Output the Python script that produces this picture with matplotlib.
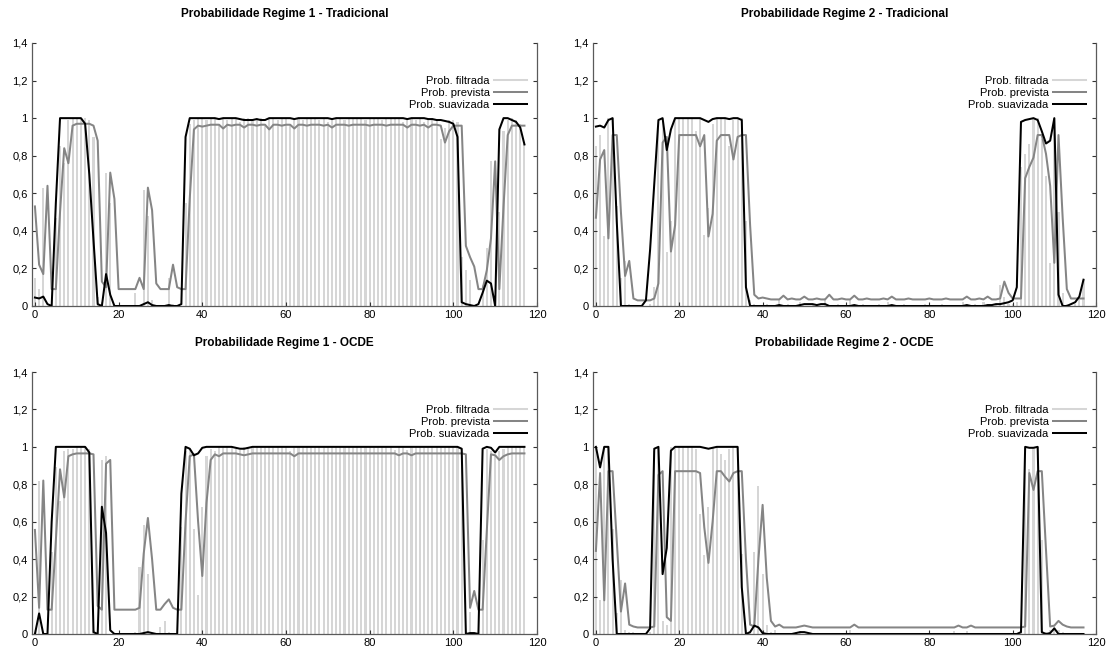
import matplotlib
matplotlib.use('Agg')
import matplotlib.pyplot as plt
from matplotlib.lines import Line2D

plt.rcParams['font.family'] = ['Liberation Sans', 'DejaVu Sans']

# ---------------- data ----------------
periods = list(range(118))

titles = ['Probabilidade Regime 1 - Tradicional', 'Probabilidade Regime 2 - Tradicional',
          'Probabilidade Regime 1 - OCDE', 'Probabilidade Regime 2 - OCDE']
legend_labels = ['Prob. filtrada', 'Prob. prevista', 'Prob. suavizada']
yticks = [0, 0.2, 0.4, 0.6, 0.8, 1.0, 1.2, 1.4]
ytick_labels = ['0', '0,2', '0,4', '0,6', '0,8', '1', '1,2', '1,4']
xticks = [0, 20, 40, 60, 80, 100, 120]

# Regime 1 - Tradicional
filt_r1_trad = [
    0.15, 0.09, 0.63, 0.00, 0.00, 0.47, 0.85, 0.76, 0.99, 1.00,
    1.00, 1.00, 1.00, 0.99, 0.90, 0.05, 0.02, 0.71, 0.55, 0.00,
    0.00, 0.00, 0.00, 0.00, 0.07, 0.00, 0.62, 0.48, 0.03, 0.00,
    0.00, 0.00, 0.15, 0.01, 0.00, 0.00, 0.55, 0.97, 0.99, 1.00,
    1.00, 0.99, 1.00, 1.00, 0.97, 1.00, 0.99, 1.00, 1.00, 0.98,
    1.00, 1.00, 0.99, 1.00, 1.00, 0.96, 1.00, 1.00, 0.99, 1.00,
    1.00, 0.97, 1.00, 1.00, 0.99, 1.00, 1.00, 1.00, 0.99, 1.00,
    0.98, 1.00, 1.00, 1.00, 0.99, 1.00, 1.00, 1.00, 1.00, 0.99,
    1.00, 1.00, 1.00, 0.99, 1.00, 1.00, 1.00, 1.00, 0.98, 1.00,
    1.00, 0.99, 1.00, 0.98, 1.00, 1.00, 0.99, 0.89, 0.95, 0.99,
    0.99, 0.98, 0.26, 0.19, 0.14, 0.00, 0.00, 0.11, 0.31, 0.77,
    0.00, 0.50, 0.93, 0.99, 1.00, 0.99, 0.97, 0.86]
pred_r1_trad = [
    0.53, 0.22, 0.17, 0.64, 0.09, 0.09, 0.50, 0.84, 0.76, 0.96,
    0.97, 0.97, 0.97, 0.97, 0.96, 0.88, 0.13, 0.10, 0.71, 0.57,
    0.09, 0.09, 0.09, 0.09, 0.09, 0.15, 0.09, 0.63, 0.51, 0.12,
    0.09, 0.09, 0.09, 0.22, 0.10, 0.09, 0.09, 0.57, 0.94, 0.96,
    0.955, 0.96, 0.965, 0.965, 0.965, 0.945, 0.965, 0.96, 0.965, 0.965,
    0.95, 0.965, 0.965, 0.96, 0.965, 0.965, 0.94, 0.965, 0.965, 0.96,
    0.965, 0.965, 0.945, 0.965, 0.965, 0.96, 0.965, 0.965, 0.965, 0.96,
    0.965, 0.95, 0.965, 0.965, 0.965, 0.96, 0.965, 0.965, 0.965, 0.965,
    0.96, 0.965, 0.965, 0.965, 0.96, 0.965, 0.965, 0.965, 0.965, 0.95,
    0.965, 0.965, 0.96, 0.965, 0.95, 0.965, 0.965, 0.96, 0.87, 0.93,
    0.96, 0.96, 0.96, 0.32, 0.26, 0.21, 0.09, 0.09, 0.19, 0.36,
    0.77, 0.09, 0.53, 0.91, 0.96, 0.96, 0.96, 0.96]
smooth_r1_trad = [
    0.045, 0.04, 0.05, 0.01, 0.00, 0.55, 1.00, 1.00, 1.00, 1.00,
    1.00, 1.00, 0.97, 0.70, 0.35, 0.01, 0.00, 0.17, 0.06, 0.00,
    0.00, 0.00, 0.00, 0.00, 0.00, 0.00, 0.01, 0.02, 0.005, 0.00,
    0.00, 0.00, 0.005, 0.00, 0.00, 0.01, 0.90, 1.00, 1.00, 1.00,
    1.00, 1.00, 1.00, 1.00, 0.995, 1.00, 1.00, 1.00, 1.00, 0.995,
    0.99, 0.99, 0.99, 0.995, 0.99, 0.99, 1.00, 1.00, 1.00, 1.00,
    1.00, 1.00, 0.995, 1.00, 1.00, 1.00, 1.00, 1.00, 1.00, 1.00,
    1.00, 0.995, 1.00, 1.00, 1.00, 1.00, 1.00, 1.00, 1.00, 1.00,
    1.00, 1.00, 1.00, 1.00, 1.00, 1.00, 1.00, 1.00, 1.00, 0.995,
    1.00, 1.00, 1.00, 1.00, 0.995, 0.995, 0.99, 0.99, 0.985, 0.98,
    0.97, 0.90, 0.02, 0.01, 0.005, 0.00, 0.01, 0.07, 0.135, 0.12,
    0.00, 0.94, 1.00, 1.00, 0.99, 0.98, 0.95, 0.86]

# Regime 2 - Tradicional
filt_r2_trad = [
    0.85, 0.91, 0.37, 1.00, 1.00, 0.53, 0.15, 0.24, 0.01, 0.00,
    0.00, 0.00, 0.00, 0.01, 0.10, 0.95, 0.98, 0.29, 0.45, 1.00,
    1.00, 1.00, 1.00, 1.00, 0.93, 1.00, 0.38, 0.52, 0.97, 1.00,
    1.00, 1.00, 0.85, 0.99, 1.00, 1.00, 0.45, 0.03, 0.01, 0.00,
    0.00, 0.01, 0.00, 0.00, 0.03, 0.00, 0.01, 0.00, 0.00, 0.02,
    0.00, 0.00, 0.01, 0.00, 0.00, 0.04, 0.00, 0.00, 0.01, 0.00,
    0.00, 0.03, 0.00, 0.00, 0.01, 0.00, 0.00, 0.00, 0.01, 0.00,
    0.02, 0.00, 0.00, 0.00, 0.01, 0.00, 0.00, 0.00, 0.00, 0.01,
    0.00, 0.00, 0.00, 0.01, 0.00, 0.00, 0.00, 0.00, 0.02, 0.00,
    0.00, 0.01, 0.00, 0.02, 0.00, 0.00, 0.01, 0.11, 0.05, 0.01,
    0.01, 0.02, 0.74, 0.81, 0.86, 1.00, 1.00, 0.89, 0.69, 0.23,
    1.00, 0.50, 0.07, 0.01, 0.00, 0.01, 0.03, 0.14]
pred_r2_trad = [
    0.47, 0.78, 0.83, 0.36, 0.91, 0.91, 0.50, 0.16, 0.24, 0.04,
    0.03, 0.03, 0.03, 0.03, 0.04, 0.12, 0.87, 0.90, 0.29, 0.43,
    0.91, 0.91, 0.91, 0.91, 0.91, 0.85, 0.91, 0.37, 0.49, 0.88,
    0.91, 0.91, 0.91, 0.78, 0.90, 0.91, 0.91, 0.43, 0.06, 0.04,
    0.045, 0.04, 0.035, 0.035, 0.035, 0.055, 0.035, 0.04, 0.035, 0.035,
    0.05, 0.035, 0.035, 0.04, 0.035, 0.035, 0.06, 0.035, 0.035, 0.04,
    0.035, 0.035, 0.055, 0.035, 0.035, 0.04, 0.035, 0.035, 0.035, 0.04,
    0.035, 0.05, 0.035, 0.035, 0.035, 0.04, 0.035, 0.035, 0.035, 0.035,
    0.04, 0.035, 0.035, 0.035, 0.04, 0.035, 0.035, 0.035, 0.035, 0.05,
    0.035, 0.035, 0.04, 0.035, 0.05, 0.035, 0.035, 0.04, 0.13, 0.07,
    0.04, 0.04, 0.04, 0.68, 0.74, 0.79, 0.91, 0.91, 0.81, 0.64,
    0.23, 0.91, 0.47, 0.09, 0.04, 0.04, 0.04, 0.04]
smooth_r2_trad = [
    0.955, 0.96, 0.95, 0.99, 1.00, 0.45, 0.00, 0.00, 0.00, 0.00,
    0.00, 0.00, 0.03, 0.30, 0.65, 0.99, 1.00, 0.83, 0.94, 1.00,
    1.00, 1.00, 1.00, 1.00, 1.00, 1.00, 0.99, 0.98, 0.995, 1.00,
    1.00, 1.00, 0.995, 1.00, 1.00, 0.99, 0.10, 0.00, 0.00, 0.00,
    0.00, 0.00, 0.00, 0.00, 0.005, 0.00, 0.00, 0.00, 0.00, 0.005,
    0.01, 0.01, 0.01, 0.005, 0.01, 0.01, 0.00, 0.00, 0.00, 0.00,
    0.00, 0.00, 0.005, 0.00, 0.00, 0.00, 0.00, 0.00, 0.00, 0.00,
    0.00, 0.005, 0.00, 0.00, 0.00, 0.00, 0.00, 0.00, 0.00, 0.00,
    0.00, 0.00, 0.00, 0.00, 0.00, 0.00, 0.00, 0.00, 0.00, 0.005,
    0.00, 0.00, 0.00, 0.00, 0.005, 0.005, 0.01, 0.01, 0.015, 0.02,
    0.03, 0.10, 0.98, 0.99, 0.995, 1.00, 0.99, 0.93, 0.865, 0.88,
    1.00, 0.06, 0.00, 0.00, 0.01, 0.02, 0.05, 0.14]

# Regime 1 - OCDE
filt_r1_ocde = [
    0.01, 0.82, 0.00, 0.00, 0.44, 0.89, 0.71, 0.98, 0.99, 0.99,
    1.00, 1.00, 1.00, 0.99, 0.02, 0.00, 0.93, 0.95, 0.00, 0.00,
    0.00, 0.00, 0.00, 0.00, 0.01, 0.36, 0.58, 0.32, 0.00, 0.00,
    0.04, 0.07, 0.01, 0.00, 0.00, 0.57, 0.98, 0.99, 0.56, 0.21,
    0.68, 0.95, 0.99, 0.98, 1.00, 1.00, 1.00, 1.00, 0.99, 0.985,
    1.00, 1.00, 1.00, 1.00, 1.00, 1.00, 1.00, 1.00, 1.00, 1.00,
    1.00, 0.98, 1.00, 1.00, 1.00, 1.00, 1.00, 1.00, 1.00, 1.00,
    1.00, 1.00, 1.00, 1.00, 1.00, 1.00, 1.00, 1.00, 1.00, 1.00,
    1.00, 1.00, 1.00, 1.00, 1.00, 1.00, 0.985, 1.00, 1.00, 0.985,
    1.00, 1.00, 1.00, 1.00, 1.00, 1.00, 1.00, 1.00, 1.00, 1.00,
    1.00, 1.00, 0.99, 0.01, 0.12, 0.00, 0.00, 0.50, 0.99, 0.98,
    0.95, 0.98, 0.99, 1.00, 1.00, 1.00, 1.00, 1.00]
pred_r1_ocde = [
    0.556, 0.14, 0.82, 0.13, 0.13, 0.50, 0.88, 0.73, 0.95, 0.96,
    0.965, 0.965, 0.965, 0.965, 0.96, 0.15, 0.13, 0.91, 0.93, 0.13,
    0.13, 0.13, 0.13, 0.13, 0.13, 0.14, 0.43, 0.62, 0.40, 0.13,
    0.13, 0.16, 0.185, 0.14, 0.13, 0.13, 0.60, 0.95, 0.96, 0.60,
    0.31, 0.70, 0.93, 0.96, 0.95, 0.965, 0.965, 0.965, 0.965, 0.96,
    0.955, 0.96, 0.965, 0.965, 0.965, 0.965, 0.965, 0.965, 0.965, 0.965,
    0.965, 0.965, 0.95, 0.965, 0.965, 0.965, 0.965, 0.965, 0.965, 0.965,
    0.965, 0.965, 0.965, 0.965, 0.965, 0.965, 0.965, 0.965, 0.965, 0.965,
    0.965, 0.965, 0.965, 0.965, 0.965, 0.965, 0.965, 0.955, 0.965, 0.965,
    0.955, 0.965, 0.965, 0.965, 0.965, 0.965, 0.965, 0.965, 0.965, 0.965,
    0.965, 0.965, 0.965, 0.96, 0.14, 0.23, 0.13, 0.13, 0.55, 0.96,
    0.955, 0.93, 0.95, 0.96, 0.965, 0.965, 0.965, 0.965]
smooth_r1_ocde = [
    0.00, 0.11, 0.00, 0.00, 0.60, 1.00, 1.00, 1.00, 1.00, 1.00,
    1.00, 1.00, 1.00, 0.97, 0.01, 0.00, 0.68, 0.54, 0.02, 0.00,
    0.00, 0.00, 0.00, 0.00, 0.00, 0.00, 0.005, 0.01, 0.005, 0.00,
    0.00, 0.00, 0.00, 0.00, 0.00, 0.75, 1.00, 0.99, 0.955, 0.965,
    0.995, 1.00, 1.00, 1.00, 1.00, 1.00, 1.00, 1.00, 0.995, 0.99,
    0.99, 0.995, 1.00, 1.00, 1.00, 1.00, 1.00, 1.00, 1.00, 1.00,
    1.00, 1.00, 1.00, 1.00, 1.00, 1.00, 1.00, 1.00, 1.00, 1.00,
    1.00, 1.00, 1.00, 1.00, 1.00, 1.00, 1.00, 1.00, 1.00, 1.00,
    1.00, 1.00, 1.00, 1.00, 1.00, 1.00, 1.00, 1.00, 1.00, 1.00,
    1.00, 1.00, 1.00, 1.00, 1.00, 1.00, 1.00, 1.00, 1.00, 1.00,
    1.00, 1.00, 0.99, 0.00, 0.005, 0.005, 0.00, 0.99, 1.00, 0.995,
    0.97, 1.00, 1.00, 1.00, 1.00, 1.00, 1.00, 1.00]

# Regime 2 - OCDE
filt_r2_ocde = [
    0.99, 0.18, 1.00, 1.00, 0.56, 0.11, 0.29, 0.02, 0.01, 0.01,
    0.00, 0.00, 0.00, 0.01, 0.98, 1.00, 0.07, 0.05, 1.00, 1.00,
    1.00, 1.00, 1.00, 1.00, 0.99, 0.64, 0.42, 0.68, 1.00, 1.00,
    0.96, 0.93, 0.99, 1.00, 1.00, 0.43, 0.02, 0.01, 0.44, 0.79,
    0.32, 0.05, 0.01, 0.02, 0.00, 0.00, 0.00, 0.00, 0.01, 0.015,
    0.00, 0.00, 0.00, 0.00, 0.00, 0.00, 0.00, 0.00, 0.00, 0.00,
    0.00, 0.02, 0.00, 0.00, 0.00, 0.00, 0.00, 0.00, 0.00, 0.00,
    0.00, 0.00, 0.00, 0.00, 0.00, 0.00, 0.00, 0.00, 0.00, 0.00,
    0.00, 0.00, 0.00, 0.00, 0.00, 0.00, 0.015, 0.00, 0.00, 0.015,
    0.00, 0.00, 0.00, 0.00, 0.00, 0.00, 0.00, 0.00, 0.00, 0.00,
    0.00, 0.00, 0.01, 0.99, 0.88, 1.00, 1.00, 0.50, 0.01, 0.02,
    0.05, 0.02, 0.01, 0.00, 0.00, 0.00, 0.00, 0.00]
pred_r2_ocde = [
    0.444, 0.86, 0.18, 0.87, 0.87, 0.50, 0.12, 0.27, 0.05, 0.04,
    0.035, 0.035, 0.035, 0.035, 0.04, 0.85, 0.87, 0.09, 0.07, 0.87,
    0.87, 0.87, 0.87, 0.87, 0.87, 0.86, 0.57, 0.38, 0.60, 0.87,
    0.87, 0.84, 0.815, 0.86, 0.87, 0.87, 0.40, 0.05, 0.04, 0.40,
    0.69, 0.30, 0.07, 0.04, 0.05, 0.035, 0.035, 0.035, 0.035, 0.04,
    0.045, 0.04, 0.035, 0.035, 0.035, 0.035, 0.035, 0.035, 0.035, 0.035,
    0.035, 0.035, 0.05, 0.035, 0.035, 0.035, 0.035, 0.035, 0.035, 0.035,
    0.035, 0.035, 0.035, 0.035, 0.035, 0.035, 0.035, 0.035, 0.035, 0.035,
    0.035, 0.035, 0.035, 0.035, 0.035, 0.035, 0.035, 0.045, 0.035, 0.035,
    0.045, 0.035, 0.035, 0.035, 0.035, 0.035, 0.035, 0.035, 0.035, 0.035,
    0.035, 0.035, 0.035, 0.04, 0.86, 0.77, 0.87, 0.87, 0.45, 0.04,
    0.045, 0.07, 0.05, 0.04, 0.035, 0.035, 0.035, 0.035]
smooth_r2_ocde = [
    1.00, 0.89, 1.00, 1.00, 0.40, 0.00, 0.00, 0.00, 0.00, 0.00,
    0.00, 0.00, 0.00, 0.03, 0.99, 1.00, 0.32, 0.46, 0.98, 1.00,
    1.00, 1.00, 1.00, 1.00, 1.00, 1.00, 0.995, 0.99, 0.995, 1.00,
    1.00, 1.00, 1.00, 1.00, 1.00, 0.25, 0.00, 0.01, 0.045, 0.035,
    0.005, 0.00, 0.00, 0.00, 0.00, 0.00, 0.00, 0.00, 0.005, 0.01,
    0.01, 0.005, 0.00, 0.00, 0.00, 0.00, 0.00, 0.00, 0.00, 0.00,
    0.00, 0.00, 0.00, 0.00, 0.00, 0.00, 0.00, 0.00, 0.00, 0.00,
    0.00, 0.00, 0.00, 0.00, 0.00, 0.00, 0.00, 0.00, 0.00, 0.00,
    0.00, 0.00, 0.00, 0.00, 0.00, 0.00, 0.00, 0.00, 0.00, 0.00,
    0.00, 0.00, 0.00, 0.00, 0.00, 0.00, 0.00, 0.00, 0.00, 0.00,
    0.00, 0.00, 0.01, 1.00, 0.995, 0.995, 1.00, 0.01, 0.00, 0.005,
    0.03, 0.00, 0.00, 0.00, 0.00, 0.00, 0.00, 0.00]

panels = [
    (filt_r1_trad, pred_r1_trad, smooth_r1_trad),
    (filt_r2_trad, pred_r2_trad, smooth_r2_trad),
    (filt_r1_ocde, pred_r1_ocde, smooth_r1_ocde),
    (filt_r2_ocde, pred_r2_ocde, smooth_r2_ocde),
]

# ---------------- styling ----------------
W, H = 1106, 654
FILT_C = '#d6d6d6'
PRED_C = '#858585'
SMOOTH_C = '#000000'
SPINE_C = '#5a5a5a'

# axes rectangles in pixels: left, top, right, bottom
rects_px = [(32, 43, 537, 306), (593, 43, 1096, 306),
            (32, 372, 537, 634), (593, 372, 1096, 634)]

fig = plt.figure(figsize=(W / 100, H / 100), dpi=100)

for (l, t, r, b), title, (filt, pred, smooth) in zip(rects_px, titles, panels):
    ax = fig.add_axes([l / W, 1 - b / H, (r - l) / W, (b - t) / H])
    ax.bar(periods, filt, width=0.5, color=FILT_C, linewidth=0, zorder=1)
    ax.plot(periods, pred, color=PRED_C, lw=1.45, zorder=2)
    ax.plot(periods, smooth, color=SMOOTH_C, lw=1.45, zorder=3)

    ax.set_xlim(-0.7, 120)
    ax.set_ylim(0, 1.4)
    ax.set_xticks(xticks)
    ax.set_xticklabels([str(v) for v in xticks])
    ax.set_yticks(yticks)
    ax.set_yticklabels(ytick_labels)
    ax.tick_params(direction='in', length=3, width=0.8, colors='#333333',
                   labelsize=8, right=True, pad=3)
    ax.tick_params(axis='y', labelcolor='black')
    ax.tick_params(axis='x', labelcolor='black')
    for side in ['left', 'bottom', 'right']:
        ax.spines[side].set_color(SPINE_C)
        ax.spines[side].set_linewidth(0.9)
    ax.spines['top'].set_visible(False)

    ax.set_title(title, fontsize=8.5, fontweight='bold', pad=19)

    handles = [Line2D([], [], color=FILT_C, lw=1.45),
               Line2D([], [], color=PRED_C, lw=1.45),
               Line2D([], [], color=SMOOTH_C, lw=1.45)]
    ax.legend(handles, legend_labels, loc='upper right',
              bbox_to_anchor=(0.981, 0.875), frameon=False, fontsize=8,
              markerfirst=False, handlelength=3.0, handletextpad=0.4,
              labelspacing=0.18, borderaxespad=0, borderpad=0)

fig.savefig('out.png', dpi=100)
